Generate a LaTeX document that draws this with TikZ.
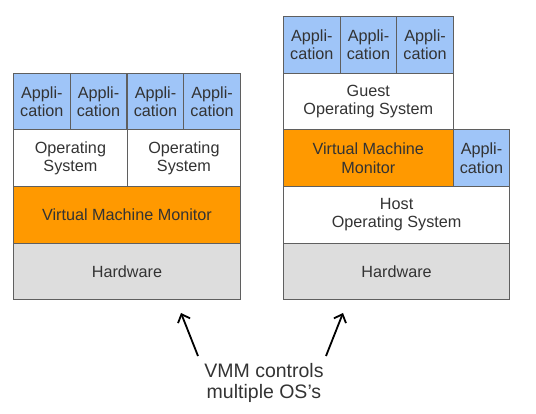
\documentclass[tikz,border=0pt]{standalone}
\usepackage{fontspec}
\setmainfont{Liberation Sans}
\usetikzlibrary{positioning, arrows.meta}

\definecolor{appblue}{HTML}{9FC5F8}
\definecolor{vmmorange}{HTML}{FF9900}
\definecolor{hwgray}{HTML}{DDDDDD}
\definecolor{edgegray}{HTML}{5F5F5F}
\definecolor{txtgray}{HTML}{333333}

\begin{document}
\begin{tikzpicture}[x=1pt, y=-1pt,
  layer/.style={draw=edgegray, line width=0.9pt, anchor=north west, inner sep=0pt,
    align=center, text=txtgray, font=\fontsize{16.2}{18.3}\selectfont},
  app/.style={layer, fill=appblue, minimum width=56.7pt, minimum height=56.7pt},
  os/.style={layer, fill=white, minimum height=56.7pt},
  vmm/.style={layer, fill=vmmorange, minimum height=56.7pt},
  hw/.style={layer, fill=hwgray, minimum height=56.7pt},
  pointer/.style={line width=1.8pt, -{Straight Barb[length=7pt, width=13pt, line width=1.8pt]}}]

\useasboundingbox (0,0) rectangle (536,414);

% left stack: VMM runs directly on the hardware
\node[hw, minimum width=227pt] (hwL) at (13,242.7) {Hardware};
\node[vmm, minimum width=227pt] (vmmL) at (13,186) {Virtual Machine Monitor};
\node[os, minimum width=114pt] (osLa) at (13,129.3) {Operating\\System};
\node[os, minimum width=113pt] (osLb) at (127,129.3) {Operating\\System};
\foreach \i/\x in {1/13, 2/69.7, 3/126.7, 4/183.3}
    \node[app] (appL\i) at (\x,72.7) {Appli-\\cation};

% right stack: VMM hosted on an operating system
\node[hw, minimum width=226.3pt] (hwR) at (283,242.7) {Hardware};
\node[os, minimum width=226.3pt] (hostR) at (283,186) {Host\\Operating System};
\node[vmm, minimum width=169.7pt] (vmmR) at (283,129.3) {Virtual Machine\\Monitor};
\node[app] (appHost) at (452.7,129.3) {Appli-\\cation};
\node[os, minimum width=169.7pt] (guestR) at (283,72.7) {Guest\\Operating System};
\foreach \i/\x in {1/283, 2/339.7, 3/396.3}
    \node[app] (appR\i) at (\x,16) {Appli-\\cation};

\node[align=center, text=txtgray, font=\fontsize{19.5}{21.5}\selectfont] (note) at (264,383)
    {VMM controls\\multiple OS's};

\coordinate (tailL) at (198,356);
\coordinate (tipL) at (181,313);
\coordinate (tailR) at (326,356);
\coordinate (tipR) at (343,313);
\draw[pointer] (tailL) -- (tipL);
\draw[pointer] (tailR) -- (tipR);
\end{tikzpicture}
\end{document}
